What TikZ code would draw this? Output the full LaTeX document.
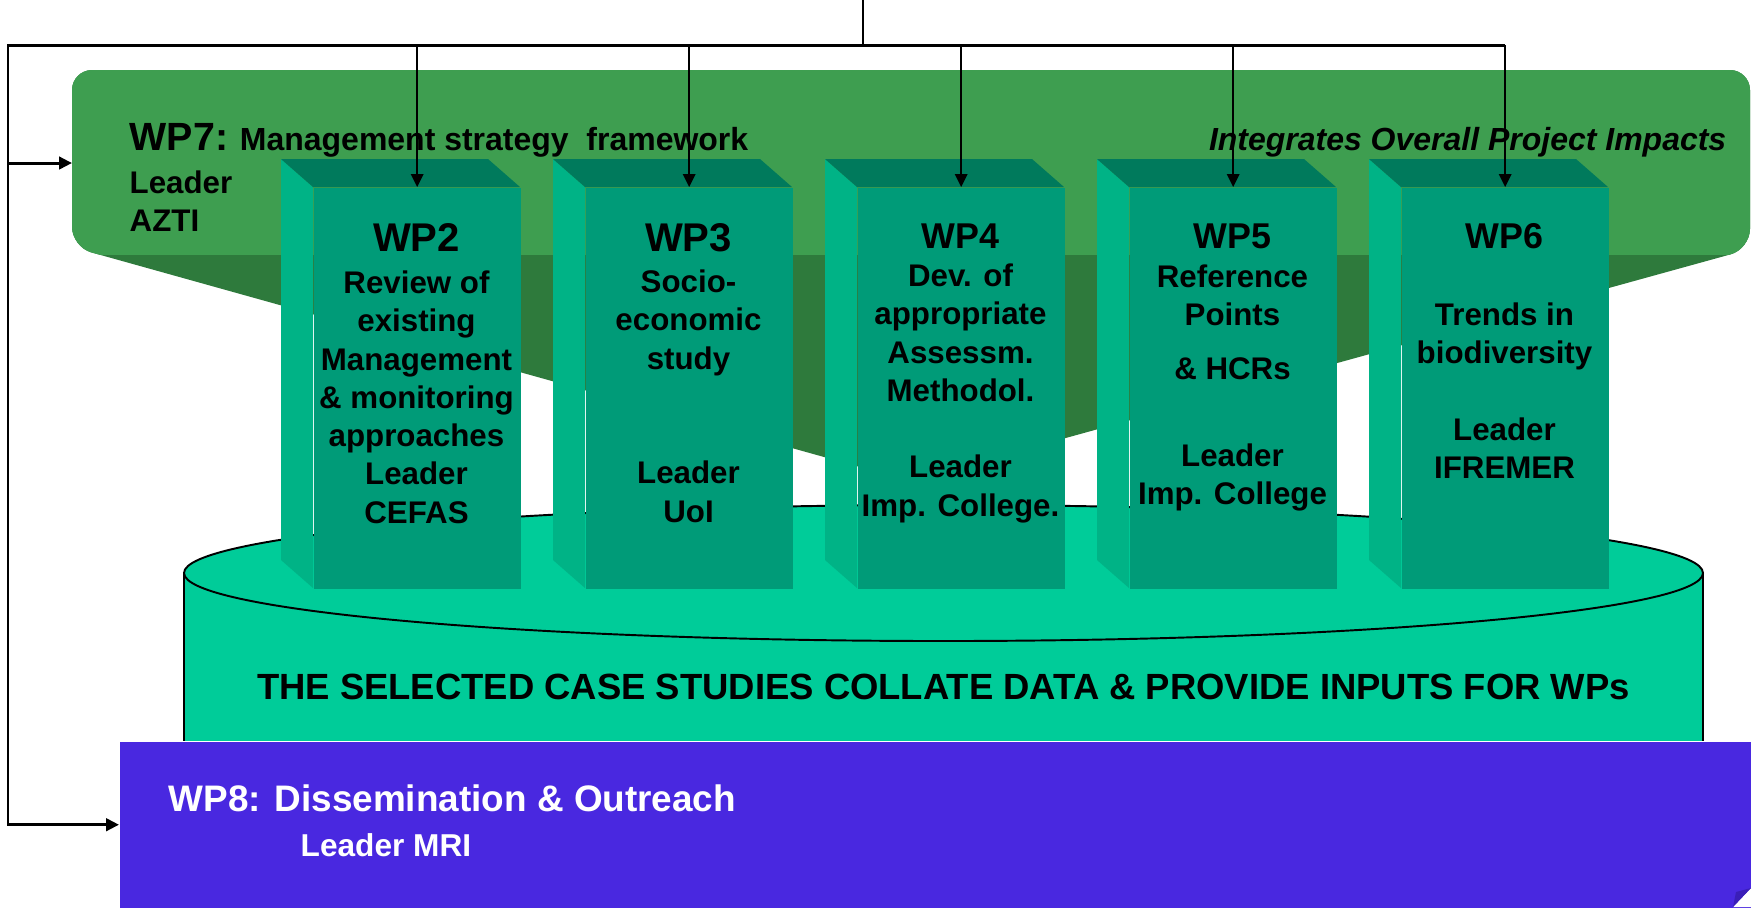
\documentclass[tikz,border=0pt]{standalone}
\usepackage{fontspec}
\setmainfont{Liberation Sans}
\usetikzlibrary{arrows.meta}

\definecolor{wpgreen}{HTML}{3E9E50}
\definecolor{wpgreendark}{HTML}{2E7A3C}
\definecolor{colfront}{HTML}{009B78}
\definecolor{colside}{HTML}{00B386}
\definecolor{coltop}{HTML}{007A5C}
\definecolor{casegreen}{HTML}{00CC99}
\definecolor{wppurple}{HTML}{4928E0}
\definecolor{wppurpledark}{HTML}{3A1EB8}

\begin{document}
\begin{tikzpicture}[x=0.1mm, y=-0.1mm,
  colbox/.style={fill=colfront, inner sep=0, minimum width=20.7mm, minimum height=40.1mm, anchor=north west},
  wptitle/.style={font=\bfseries\fontsize{10.2}{12}\selectfont, anchor=base, inner sep=0},
  wpbig/.style={wptitle, font=\bfseries\fontsize{11.4}{13}\selectfont},
  wptext/.style={font=\bfseries\fontsize{8.9}{10.9}\selectfont, align=center, anchor=north, inner sep=0},
  feed/.style={line width=0.85pt},
  tip/.style={-{Triangle[length=1.3mm, width=1.25mm]}},
  drop/.style={line width=0.5pt, tip}]

  \useasboundingbox (0,0) rectangle (1758,907);

  % WP7 banner
  \begin{scope}
    \clip[rounded corners=2mm] (72,70) -- (1750,70) -- (1750,249) -- (910,481) -- (72,247) -- cycle;
    \fill[wpgreendark] (0,0) rectangle (1758,907);
    \fill[wpgreen] (0,0) rectangle (1758,255);
  \end{scope}
  \node[anchor=base west, inner sep=0, font=\bfseries\fontsize{9.1}{11}\selectfont] (wp7) at (129,150)
    {{\fontsize{11.2}{13}\selectfont WP7:} Management strategy~ framework};
  \node[anchor=north west, inner sep=0, align=left, font=\bfseries\fontsize{8.9}{10.9}\selectfont] (wp7lead) at (129,170)
    {Leader\\AZTI};
  \node[anchor=base east, inner sep=0, font=\bfseries\itshape\fontsize{9.1}{11}\selectfont] (impacts) at (1727,150)
    {Integrates Overall Project Impacts};

  % case studies drum
  \fill[casegreen] (184,573) rectangle (1703,741);
  \filldraw[fill=casegreen, line width=0.55pt] (943.5,573) ellipse [x radius=75.95mm, y radius=6.8mm];
  \draw[line width=0.55pt] (184,573) -- (184,741) (1703,573) -- (1703,741);
  \node[anchor=base, font=\bfseries\fontsize{10.37}{12}\selectfont] (cases) at (943.5,699)
    {THE SELECTED CASE STUDIES COLLATE DATA \& PROVIDE INPUTS FOR WPs};

  % work package columns
  \foreach \n/\x in {2/313, 3/585, 4/857, 5/1129, 6/1401} {
    \fill[colside] (\x,187) -- (\x-32,159) -- (\x-32,560) -- (\x,588) -- cycle;
    \fill[coltop] (\x,187) -- (\x-32,159) -- (\x+175,159) -- (\x+207,187) -- cycle;
    \node[colbox] (wp\n) at (\x,187) {};
  }

  \node[wpbig] at (416.5,251) {WP2};
  \node[wptext] at (416.5,270) {Review of\\existing\\Management\\\& monitoring\\approaches\\Leader\\CEFAS};
  \node[wpbig] at (688.5,251) {WP3};
  \node[wptext] at (688.5,269) {Socio-\\economic\\study\\[21.8pt]Leader\\UoI};
  \node[wptitle] at (960.5,248) {WP4};
  \node[wptext] at (960.5,263) {Dev. of\\appropriate\\Assessm.\\Methodol.\\[10.9pt]Leader\\Imp. College.};
  \node[wptitle] at (1232.5,248) {WP5};
  \node[wptext] at (1232.5,264) {Reference\\Points\\[4.5pt]\& HCRs\\[13.7pt]Leader\\Imp. College};
  \node[wptitle] at (1504.5,248) {WP6};
  \node[wptext] at (1504.5,302) {Trends in\\biodiversity\\[10.9pt]Leader\\IFREMER};

  % WP8 box
  \node[fill=wppurple, inner sep=0, minimum width=163.1mm, minimum height=16.6mm, anchor=north west] (wp8) at (119,741) {};
  \fill[white] (1733,907) -- (1751,888) -- (1751,907) -- cycle;
  \fill[wppurpledark] (1733,907) -- (1736,892) -- (1751,888) -- cycle;
  \node[anchor=base west, inner sep=0, text=white, font=\bfseries\fontsize{10.5}{12}\selectfont] (wp8title) at (168,811)
    {WP8: Dissemination \& Outreach};
  \node[anchor=base west, inner sep=0, text=white, font=\bfseries\fontsize{9}{11}\selectfont] (wp8lead) at (300,856)
    {Leader MRI};

  % feedback lines
  \coordinate (top) at (863,0);
  \coordinate (busM) at (863,45);
  \coordinate (busL) at (8,45);
  \coordinate (busR) at (wp6.north |- busL);
  \coordinate (wp7in) at (72,163);

  \draw[line width=0.65pt] (top) -- (busM);
  \draw[feed, tip] (busR) -- (busL) |- (wp8.west);
  \draw[feed, tip] (busL |- wp7in) -- (wp7in);
  \foreach \n in {2,...,5}
    \draw[drop] (wp\n.north |- busL) -- (wp\n.north);
  \draw[drop] (busR) -- (wp6.north);
\end{tikzpicture}
\end{document}
